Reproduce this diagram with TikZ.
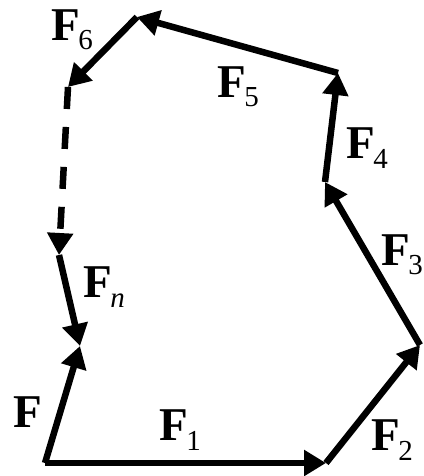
\documentclass[tikz,border=0pt]{standalone}
\usepackage{fontspec}
\setmainfont{Liberation Serif}
\usetikzlibrary{arrows.meta}

\newcommand{\Fsub}[1]{\textbf{F}\kern-1.5pt\raisebox{-0.2em}{\fontsize{29}{29}\selectfont #1}}

\tikzset{
    vec/.style={line width=6.5pt, -{Triangle[length=22pt,width=25pt]}},
    lab/.style={font=\fontsize{47}{47}\selectfont, inner sep=0pt}
}

\begin{document}
\begin{tikzpicture}[x=1pt, y=-1pt]
    \useasboundingbox (0,0) rectangle (423,476);

    \coordinate (O)  at (45,463);
    \coordinate (P1) at (326,463);
    \coordinate (P2) at (420,345);
    \coordinate (P3) at (325,182);
    \coordinate (P4) at (338,73);
    \coordinate (P5) at (137,17);
    \coordinate (P6) at (68,87);
    \coordinate (Pk) at (59,255);
    \coordinate (Pn) at (80,346);

    \draw[vec] (O) -- (P1);
    \draw[vec] (P1) -- (P2);
    \draw[vec] (P2) -- (P3);
    \draw[vec] (P3) -- (P4);
    \draw[vec] (P4) -- (P5);
    \draw[vec] (P5) -- (P6);
    \draw[vec, dash pattern=on 22pt off 18pt] (P6) -- (Pk);
    \draw[vec] (Pk) -- (Pn);
    \draw[vec] (O) -- (Pn);

    \node[lab] (lF)  at (28,412)  {\textbf{F}};
    \node[lab] (lF1) at (180,430) {\Fsub{1}};
    \node[lab] (lF2) at (392,440) {\Fsub{2}};
    \node[lab] (lF3) at (402,255) {\Fsub{3}};
    \node[lab] (lF4) at (367,148) {\Fsub{4}};
    \node[lab] (lF5) at (238,87)  {\Fsub{5}};
    \node[lab] (lF6) at (72,30)   {\Fsub{6}};
    \node[lab] (lFn) at (104,287) {\Fsub{\textit{n}}};
\end{tikzpicture}
\end{document}
